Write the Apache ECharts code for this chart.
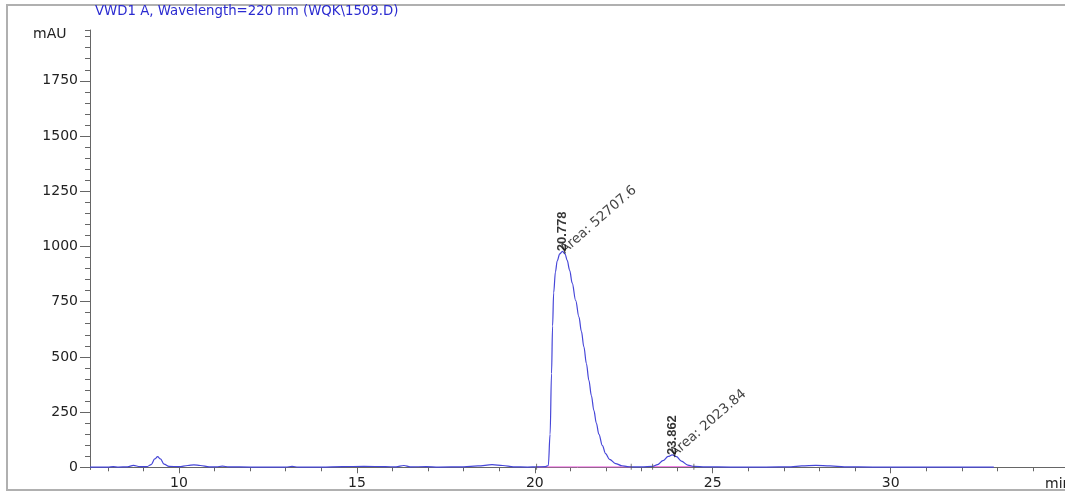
<!DOCTYPE html>
<html>
<head>
<meta charset="utf-8">
<script src="https://cdn.jsdelivr.net/npm/echarts@6/dist/echarts.min.js"></script>
<style>
  html, body { margin: 0; padding: 0; background: #fff; }
  #container { width: 1065px; height: 493px; }
</style>
</head>
<body>
<div id="container"></div>
<script>
// chromatogram trace (min, mAU)
const traceTimes = [
  7.5, 8.0, 8.15, 8.3, 8.55, 8.72, 8.9, 9.1, 9.22, 9.32, 9.4, 9.48, 9.58, 9.72,
  10.0, 10.25, 10.42, 10.6, 10.85, 11.05, 11.22, 11.4, 12.0, 13.0, 13.18, 13.35,
  14.0, 14.6, 15.2, 15.8, 16.1, 16.32, 16.5, 16.95, 17.3, 18.0, 18.4, 18.8, 19.1,
  19.4, 19.8, 20.05, 20.3, 20.38, 20.43, 20.47, 20.5, 20.53, 20.58, 20.63, 20.7,
  20.778, 20.85, 20.91, 20.98, 21.05, 21.15, 21.24, 21.31, 21.38, 21.45, 21.52,
  21.59, 21.66, 21.73, 21.8, 21.9, 21.99, 22.1, 22.27, 22.45, 22.6, 22.71, 23.0,
  23.31, 23.45, 23.6, 23.75, 23.862, 23.98, 24.12, 24.3, 24.47, 24.8, 25.5, 26.5,
  27.2, 27.5, 27.9, 28.3, 28.7, 29.5, 32.9
];
const traceValues = [
  1, 1, 3, 1, 2, 9, 3, 3, 12, 38, 48, 38, 14, 4,
  3, 8, 11, 8, 2, 2, 5, 2, 1, 1, 4, 1,
  1, 3, 4, 3, 2, 8, 2, 3, 1, 2, 6, 12, 8,
  2, 1, 2, 3, 8, 150, 424, 640, 790, 885, 935, 966,
  978, 966, 937, 892, 835, 755, 681, 615, 545, 470, 394,
  325, 258, 200, 150, 98, 62, 36, 17, 7, 3, 2, 2,
  4, 12, 30, 49, 56, 48, 28, 10, 4, 2, 1, 1,
  2, 6, 9, 6, 2, 1, 1
];

// integrated peaks
const peakTimes = [20.778, 23.862];
const peakHeights = [978, 56];
const peakAreas = ['52707.6', '2023.84'];
// integration baselines [start, end] in min, level in mAU
const baseStarts = [20.05, 23.31];
const baseEnds = [22.71, 24.47];
const baseLevels = [2, 3];

// axes
const xMajorTicks = [10, 15, 20, 25, 30];
const xMinorTicks = [8, 9, 10, 11, 12, 13, 14, 15, 16, 17, 18, 19, 20, 21, 22, 23, 24, 25,
  26, 27, 28, 29, 30, 31, 32, 33, 34];
const yMajorTicks = [0, 250, 500, 750, 1000, 1250, 1500, 1750];
const yMinorTicks = [0, 50, 100, 150, 200, 250, 300, 350, 400, 450, 500, 550, 600, 650, 700,
  750, 800, 850, 900, 950, 1000, 1050, 1100, 1150, 1200, 1250, 1300, 1350, 1400, 1450,
  1500, 1550, 1600, 1650, 1700, 1750, 1800, 1850, 1900, 1950, 1980];

const titleText = 'VWD1 A, Wavelength=220 nm (WQK\\1509.D)';

const traceData = traceTimes.map((t, i) => [t, traceValues[i]]);
const peakData = peakTimes.map((t, i) => [t, peakHeights[i], peakAreas[i]]);
const baseSeries = baseStarts.map((s, i) => ({
  type: 'line',
  data: [[s, baseLevels[i]], [baseEnds[i], baseLevels[i]]],
  symbol: 'none',
  lineStyle: { color: '#ee6ee0', width: 1 },
  silent: true,
  z: 2
}));
const markerData = [];
baseStarts.forEach((s, i) => {
  markerData.push([s, baseLevels[i]]);
  markerData.push([baseEnds[i], baseLevels[i]]);
});

const axisGray = '#666';
const labelFont = 'DejaVu Sans';

let option = {
  animation: false,
  backgroundColor: '#fff',
  grid: { left: 90, top: 30, width: 975, height: 439.5 },
  xAxis: [
    {
      type: 'value', min: 7.5, max: 34.9,
      axisLine: { show: true, lineStyle: { color: axisGray, width: 1 } },
      axisTick: { show: true, customValues: xMajorTicks, length: 6, lineStyle: { color: axisGray } },
      axisLabel: { customValues: xMajorTicks, margin: 7, color: '#222', fontSize: 14, fontFamily: labelFont },
      splitLine: { show: false }
    },
    {
      type: 'value', min: 7.5, max: 34.9, position: 'bottom',
      axisLine: { show: false },
      axisTick: { show: true, customValues: xMinorTicks, length: 4, lineStyle: { color: axisGray } },
      axisLabel: { show: false },
      splitLine: { show: false }
    }
  ],
  yAxis: [
    {
      type: 'value', min: -10, max: 1980,
      axisLine: { show: true, lineStyle: { color: axisGray, width: 1 } },
      axisTick: { show: true, customValues: yMajorTicks, length: 10, lineStyle: { color: axisGray } },
      axisLabel: {
        customValues: yMajorTicks, margin: 12, color: '#222', fontSize: 14, fontFamily: labelFont,
        formatter: v => String(v)
      },
      splitLine: { show: false }
    },
    {
      type: 'value', min: -10, max: 1980, position: 'left',
      axisLine: { show: false },
      axisTick: { show: true, customValues: yMinorTicks, length: 5, lineStyle: { color: axisGray } },
      axisLabel: { show: false },
      splitLine: { show: false }
    }
  ],
  graphic: [
    {
      type: 'rect', shape: { x: 7, y: 5, width: 1080, height: 485 },
      style: { fill: 'none', stroke: '#b0b0b0', lineWidth: 2 }, silent: true
    },
    {
      type: 'text', left: 95, top: 5,
      style: { text: titleText, fill: '#2a2ad0', font: '13.3px "DejaVu Sans"' }
    },
    {
      type: 'text', left: 33, top: 27,
      style: { text: 'mAU', fill: '#222', font: '14px "DejaVu Sans"' }
    },
    {
      type: 'text', left: 1045, top: 477,
      style: { text: 'min', fill: '#222', font: '14px "DejaVu Sans"' }
    }
  ],
  series: [
    {
      type: 'line',
      data: traceData,
      symbol: 'none',
      smooth: 0.35,
      smoothMonotone: 'x',
      lineStyle: { color: '#4646d8', width: 1.2 },
      silent: true,
      z: 3
    },
    ...baseSeries,
    {
      // integration event marks
      type: 'scatter',
      data: markerData,
      symbol: 'rect',
      symbolSize: [1, 6],
      itemStyle: { color: '#555' },
      silent: true,
      z: 4
    },
    {
      // retention time labels
      type: 'scatter',
      data: peakData,
      symbolSize: 1,
      itemStyle: { color: 'rgba(0,0,0,0)' },
      labelLayout: { hideOverlap: false },
      label: {
        show: true,
        position: 'inside',
        align: 'left',
        verticalAlign: 'middle',
        rotate: 90,
        offset: [1, -6],
        formatter: p => p.value[0].toFixed(3),
        color: '#000',
        fontSize: 13,
        fontWeight: 'bold',
        fontFamily: 'Liberation Sans'
      },
      silent: true,
      z: 5
    },
    {
      // area labels
      type: 'scatter',
      data: peakData,
      symbolSize: 1,
      itemStyle: { color: 'rgba(0,0,0,0)' },
      labelLayout: { hideOverlap: false },
      label: {
        show: true,
        position: 'inside',
        align: 'left',
        verticalAlign: 'middle',
        rotate: 41,
        offset: [8, -3],
        formatter: p => 'Area: ' + p.value[2],
        color: '#111',
        fontSize: 13.5,
        fontFamily: labelFont
      },
      silent: true,
      z: 5
    }
  ]
};

let chartDom = document.getElementById('container');
let chrt = echarts.init(chartDom);
chrt.setOption(option);
</script>
</body>
</html>
